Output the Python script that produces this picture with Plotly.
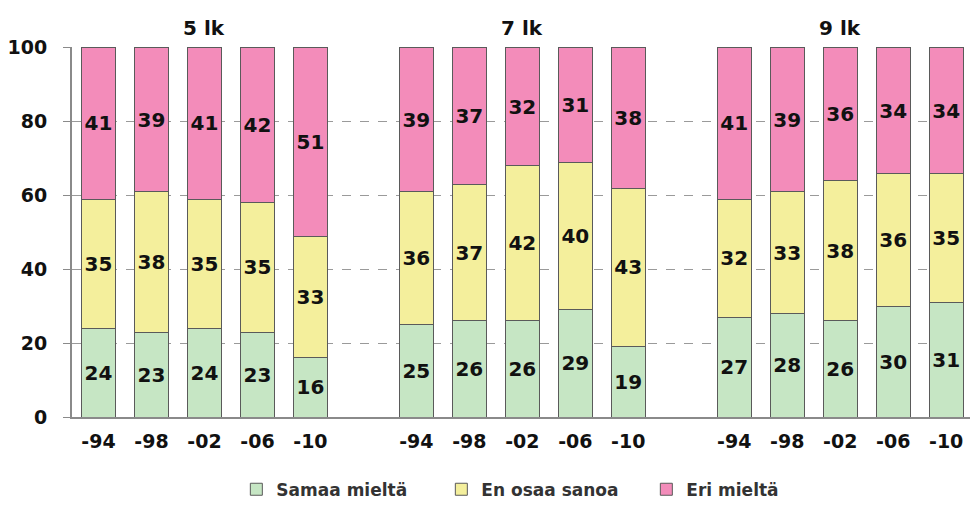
import plotly.graph_objects as go

groups = ["5 lk", "7 lk", "9 lk"]
years = ["-94", "-98", "-02", "-06", "-10"]
samaa = [[24, 23, 24, 23, 16], [25, 26, 26, 29, 19], [27, 28, 26, 30, 31]]
en_osaa = [[35, 38, 35, 35, 33], [36, 37, 42, 40, 43], [32, 33, 38, 36, 35]]
eri = [[41, 39, 41, 42, 51], [39, 37, 32, 31, 38], [41, 39, 36, 34, 34]]
series_names = ["Samaa mieltä", "En osaa sanoa", "Eri mieltä"]
colors = ["#c6e6c4", "#f4ef9c", "#f38cba"]

# Build categorical slots: five years per group, a blank spacer between groups
cats, tickvals, ticktext = [], [], []
for gi, g in enumerate(groups):
    for y in years:
        c = f"{g} {y}"
        cats.append(c)
        tickvals.append(c)
        ticktext.append(y)
    if gi < len(groups) - 1:
        cats.append(" " * (gi + 1))


def flat(vals):
    out = []
    for gi, row in enumerate(vals):
        out.extend(row)
        if gi < len(vals) - 1:
            out.append(None)
    return out


FONT = "DejaVu Sans"
fig = go.Figure()
for name, vals, col in zip(series_names, [samaa, en_osaa, eri], colors):
    yv = flat(vals)
    fig.add_trace(go.Bar(
        x=cats, y=yv, name=name,
        marker=dict(color=col, line=dict(color="#5a5a5a", width=1)),
        text=[str(v) if v is not None else "" for v in yv],
        textposition="inside", insidetextanchor="middle",
        constraintext="none",
        textfont=dict(family=FONT, size=20, color="#111111", weight="bold"),
    ))

for g in groups:
    fig.add_annotation(x=f"{g} -02", y=1.0, xref="x", yref="paper",
                       yanchor="bottom", yshift=5, text=f"<b>{g}</b>", showarrow=False,
                       font=dict(family=FONT, size=20, color="#111111"))

fig.update_layout(
    barmode="stack", bargap=0.36,
    width=970, height=508,
    margin=dict(l=72, r=0, t=47, b=91, autoexpand=False),
    paper_bgcolor="white", plot_bgcolor="white",
    font=dict(family=FONT, color="#111111"),
    legend=dict(orientation="h", x=0.183, xanchor="left",
                yref="container", y=0.036, yanchor="middle",
                font=dict(family=FONT, size=17, color="#333333", weight="bold"),
                traceorder="normal", itemwidth=30,
                entrywidth=160, entrywidthmode="pixels"),
    xaxis=dict(type="category", categoryorder="array", categoryarray=cats,
               tickvals=tickvals, ticktext=ticktext, range=[-0.5, 16.45],
               showline=True, linecolor="#8a8a8a", linewidth=2, ticks="",
               ticklabelstandoff=6,
               tickfont=dict(family=FONT, size=19, color="#111111", weight="bold"),
               showgrid=False),
    yaxis=dict(range=[0, 100.2], tickvals=[0, 20, 40, 60, 80, 100],
               showline=True, linecolor="#8a8a8a", linewidth=2,
               ticks="outside", ticklen=7, tickcolor="#8a8a8a",
               showgrid=True, gridcolor="#9a9a9a", griddash="dash", gridwidth=1,
               zeroline=False, ticklabelstandoff=12,
               tickfont=dict(family=FONT, size=19, color="#111111", weight="bold")),
)

fig.write_html("out.html", config={"displayModeBar": False})
with open("out.html", encoding="utf-8") as f:
    html = f.read()
html = html.replace("<head>", "<head><style>html,body{margin:0;padding:0;overflow:hidden}</style>", 1)
with open("out.html", "w", encoding="utf-8") as f:
    f.write(html)
